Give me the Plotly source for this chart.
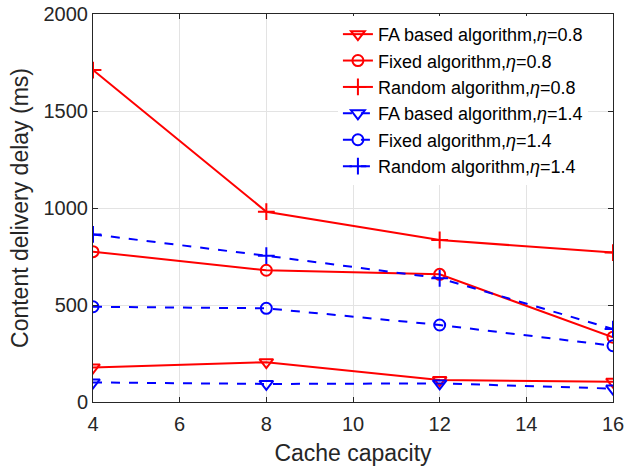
import plotly.graph_objects as go

# Cache capacity (x) and content delivery delay in ms for each scheme
cache_capacity = [4, 8, 12, 16]

fa_08 = [178, 205, 113, 105]
fixed_08 = [775, 679, 658, 334]
random_08 = [1711, 981, 835, 770]

fa_14 = [101, 93, 96, 69]
fixed_14 = [491, 483, 397, 290]
random_14 = [864, 754, 638, 376]

x_ticks = [4, 6, 8, 10, 12, 14, 16]
y_ticks = [0, 500, 1000, 1500, 2000]

series = [
    ("FA based algorithm,<i>η</i>=0.8", fa_08, "red", "solid", "triangle-down-open", 12),
    ("Fixed algorithm,<i>η</i>=0.8", fixed_08, "red", "solid", "circle-open", 11),
    ("Random algorithm,<i>η</i>=0.8", random_08, "red", "solid", "cross-thin-open", 12),
    ("FA based algorithm,<i>η</i>=1.4", fa_14, "blue", "dash", "triangle-down-open", 12),
    ("Fixed algorithm,<i>η</i>=1.4", fixed_14, "blue", "dash", "circle-open", 11),
    ("Random algorithm,<i>η</i>=1.4", random_14, "blue", "dash", "cross-thin-open", 12),
]

FONT = "Liberation Sans, Arial, sans-serif"

fig = go.Figure()
for name, vals, color, dash, symbol, msize in series:
    fig.add_trace(go.Scatter(
        x=cache_capacity, y=vals, name=name, mode="lines+markers",
        line=dict(color=color, width=2, dash=dash),
        marker=dict(symbol=symbol, size=msize, color=color,
                    line=dict(color=color, width=2)),
    ))

axis_common = dict(
    showline=True, linecolor="#262626", linewidth=1, mirror="ticks",
    ticks="inside", ticklen=5, tickcolor="#262626",
    showgrid=True, gridcolor="#e3e3e3", gridwidth=1,
    zeroline=False, automargin=False,
    tickfont=dict(family=FONT, size=20, color="#262626"),
)

fig.update_xaxes(range=[4, 16], tickvals=x_ticks, ticklabelstandoff=4,
                 title=dict(text="Cache capacity", standoff=10,
                            font=dict(family=FONT, size=23, color="#262626")),
                 **axis_common)
fig.update_yaxes(range=[0, 2000], tickvals=y_ticks,
                 title=dict(text="Content delivery delay (ms)", standoff=8,
                            font=dict(family=FONT, size=23, color="#262626")),
                 **axis_common)

fig.update_layout(
    width=626, height=466,
    margin=dict(l=93, r=13, t=14, b=64),
    paper_bgcolor="white", plot_bgcolor="white",
    showlegend=True,
    legend=dict(
        x=0.471, y=0.995, xanchor="left", yanchor="top",
        bgcolor="white", borderwidth=0,
        font=dict(family=FONT, size=18, color="#000000"),
        itemwidth=30, tracegroupgap=0,
    ),
)

fig.write_html("out.html")
